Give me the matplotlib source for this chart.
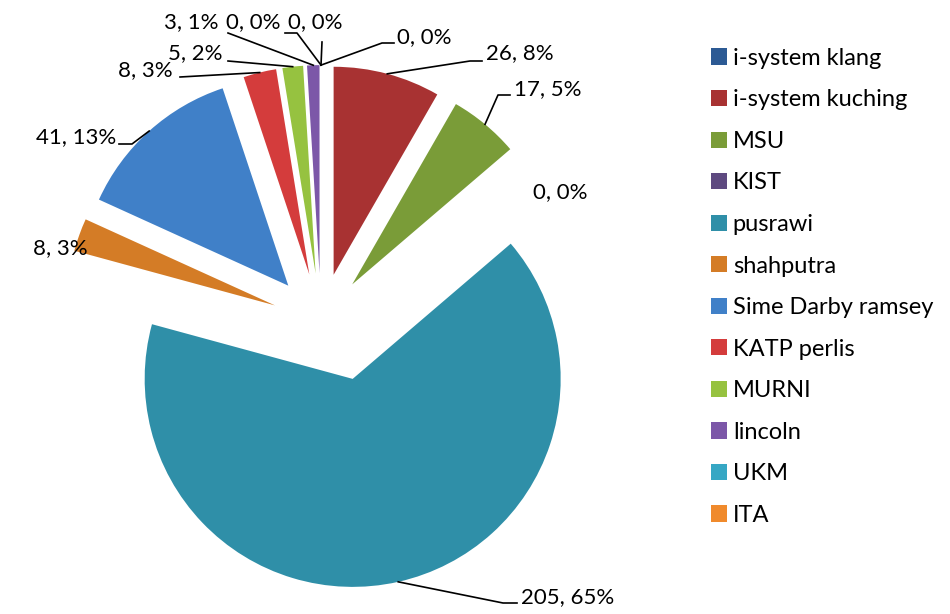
import numpy as np
import matplotlib.pyplot as plt

names = ["i-system klang", "i-system kuching", "MSU", "KIST", "pusrawi",
         "shahputra", "Sime Darby ramsey", "KATP perlis", "MURNI", "lincoln",
         "UKM", "ITA"]
counts = [0, 26, 17, 0, 205, 8, 41, 8, 5, 3, 0, 0]
colors = ["#2c5a94", "#a83232", "#7a9c38", "#5e4a80", "#2f8fa8", "#d47c26",
          "#4080c8", "#d43c3c", "#96c240", "#7c57a8", "#36a7c4", "#f08a2c"]
explode_frac = [0.235] * 12
explode_frac[4] = 0.30

W, H = 950, 614
plt.rcParams['font.family'] = ['Lato', 'DejaVu Sans']

fig = plt.figure(figsize=(W / 100, H / 100), dpi=100)
ax = fig.add_axes([0, 0, 1, 1])

def P(x, y):
    # image pixel coords (y down) -> axes coords
    return x, H - y

R = 208
# explode is in data units here, so scale the fractions by the radius
wedges, _ = ax.pie(counts, colors=colors, explode=[f * R for f in explode_frac],
                   radius=R, center=P(321, 322), startangle=90, counterclock=False,
                   wedgeprops=dict(edgecolor='none'), frame=True)
# the big slice sits a bit further right in the original
cx, cy = wedges[4].center
wedges[4].set_center((cx + 18, cy + 4))

ax.set_xlim(0, W)
ax.set_ylim(0, H)
ax.set_aspect('equal')
ax.axis('off')

total = sum(counts)
labels = ["%d, %d%%" % (c, round(100 * c / total)) for c in counts]

# label text position (image px), alignment, leader points between anchor and text
label_pos = [
    ((397, 37), 'left', [(382, 43), (394, 43)]),
    ((486, 53), 'left', [(470, 61), (482, 61)]),
    ((514, 89), 'left', [(498, 95), (510, 95)]),
    ((533, 192), 'left', None),
    ((521, 597), 'left', [(503, 603), (517, 603)]),
    ((88, 248), 'right', None),
    ((116, 137), 'right', [(132, 144), (119, 144)]),
    ((173, 70), 'right', [(180, 77)]),
    ((223, 53), 'right', [(228, 61)]),
    ((218, 22), 'right', [(228, 33)]),
    ((226, 22), 'left', [(297, 33), (285, 33)]),
    ((288, 22), 'left', [(322, 42)]),
]

for w, lab, (pos, ha, leader) in zip(wedges, labels, label_pos):
    ax.text(*P(*pos), lab, ha=ha, va='center', fontsize=16, color='black')
    if leader:
        mid = np.deg2rad((w.theta1 + w.theta2) / 2)
        cx, cy = w.center
        ax_x = cx + R * np.cos(mid)
        ax_y = cy + R * np.sin(mid)
        pts = [(ax_x, ax_y)] + [P(*p) for p in leader]
        xs, ys = zip(*pts)
        ax.plot(xs, ys, color='black', lw=1.2)

ax.legend(wedges, names, loc='upper left', bbox_to_anchor=(699 / W, 1 - 36 / H),
          frameon=False, fontsize=17, handlelength=0.68, handleheight=0.68,
          handletextpad=0.25, labelspacing=0.87, borderpad=0)

fig.savefig("out.png", dpi=100)
